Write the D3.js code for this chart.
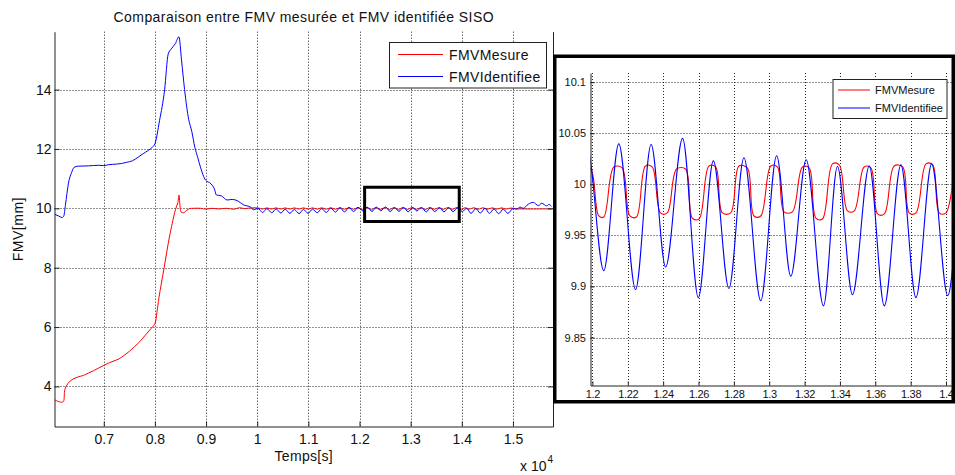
<!DOCTYPE html>
<html><head><meta charset="utf-8">
<script src="https://d3js.org/d3.v7.min.js"></script>
<style>
body{margin:0;background:#fff;}
svg{display:block;font-family:"Liberation Sans",Arial,Helvetica,sans-serif;}
</style></head><body>
<svg id="chart" width="955" height="475"></svg>
<script>
// ---- Data (time in units of 10^4 s) ----
const tempsMesure = [
0.604,0.610,0.616,0.621,0.624,0.630,0.638,0.650,0.660,0.670,0.680,0.690,0.700,0.710,0.720,0.730,0.740,0.750,0.760,0.770,0.780,0.790,0.800,0.804,0.808,0.818,0.828,0.834,0.840,0.845,0.847,0.849,0.851,0.856,0.862,0.868,0.875,0.890,0.900,0.910,0.925,0.940,0.955,0.965,0.975,0.985,
1.0013,1.0106,1.0191,1.0284,1.0369,1.0462,1.0547,1.0640,1.0725,1.0818,1.0903,1.0996,1.1081,1.1174,1.1259,1.1352,1.1437,1.1530,1.1615,1.1708,1.1793,1.1886,
1.1950,1.1990,1.2036,1.2064,1.2121,1.2168,1.2212,1.2249,1.2300,1.2338,1.2385,1.2423,1.2476,1.2527,1.2565,1.2603,1.2659,1.2697,1.2735,1.2782,1.2829,1.2876,1.2914,1.2952,1.3009,1.3046,1.3084,1.3131,1.3188,1.3226,1.3264,1.3301,1.3358,1.3396,1.3443,1.3481,1.3537,1.3575,1.3613,1.3651,1.3707,1.3755,1.3792,1.3830,1.3887,1.3925,1.3962,1.4000,
1.4065,1.4140,1.4240,1.4320,1.4420,1.4500,1.4600,1.4680,1.4780,1.4860,1.4960,1.5050,1.5200,1.5400,1.5600,1.5760
];
const fmvMesure = [
3.55,3.50,3.47,3.49,3.90,4.10,4.23,4.32,4.37,4.45,4.53,4.62,4.71,4.79,4.86,4.93,5.05,5.18,5.34,5.50,5.70,5.90,6.12,6.50,7.00,8.00,9.00,9.50,9.95,10.20,10.45,10.10,9.88,9.85,9.93,9.99,10.00,10.00,9.97,10.00,9.98,10.00,9.97,10.02,9.99,10.01,
10.015,9.975,10.015,9.975,10.016,9.974,10.015,9.973,10.016,9.974,10.017,9.972,10.016,9.972,10.018,9.971,10.018,9.970,10.019,9.969,10.019,9.968,
10.016,10.015,9.969,9.968,10.017,10.016,9.969,9.968,10.018,10.017,9.972,9.972,10.015,10.015,9.967,9.966,10.018,10.017,9.972,9.972,10.018,10.016,9.969,9.969,10.018,10.017,9.973,9.973,10.017,10.016,9.967,9.966,10.020,10.019,9.974,9.974,10.017,10.016,9.971,9.971,10.018,10.017,9.972,9.972,10.020,10.019,9.972,9.972,
10.020,9.972,10.018,9.971,10.018,9.972,10.017,9.973,10.016,9.974,10.010,9.985,9.980,9.978,9.980,9.975
];
const tempsIdentifiee = [
0.604,0.612,0.619,0.622,0.625,0.631,0.637,0.642,0.650,0.670,0.690,0.700,0.710,0.725,0.735,0.745,0.756,0.767,0.777,0.787,0.795,0.800,0.809,0.819,0.826,0.832,0.840,0.847,0.852,0.858,0.866,0.872,0.878,0.884,0.889,0.899,0.910,0.917,0.920,0.930,0.941,0.951,0.962,0.973,0.987,0.993,
1.0013,1.0106,1.0191,1.0284,1.0369,1.0462,1.0547,1.0640,1.0725,1.0818,1.0903,1.0996,1.1081,1.1174,1.1259,1.1352,1.1437,1.1530,1.1615,1.1708,1.1793,1.1886,1.1971,
1.2064,1.2149,1.2244,1.2332,1.2414,1.2510,1.2599,1.2684,1.2772,1.2857,1.2952,1.3042,1.3122,1.3209,1.3307,1.3386,1.3471,1.3566,1.3651,1.3745,1.3830,1.3919,1.4010,
1.4095,1.4180,1.4275,1.4360,1.4455,1.4540,1.4630,1.4720,1.4810,1.4900,1.5008,1.5070,1.5139,1.5200,1.5300,1.5399,1.5496,1.5563,1.5660,1.5700,1.5760
];
const fmvIdentifiee = [
9.80,9.74,9.69,9.75,10.10,10.85,11.20,11.38,11.42,11.43,11.45,11.44,11.47,11.49,11.51,11.55,11.60,11.72,11.84,11.95,12.06,12.17,12.95,14.00,15.20,15.37,15.55,15.78,15.00,14.00,13.00,12.60,12.06,11.70,11.39,10.95,10.82,10.62,10.45,10.42,10.28,10.30,10.25,10.12,10.04,9.95,
10.00,9.86,9.99,9.85,9.98,9.84,9.97,9.83,9.96,9.82,9.96,9.83,9.97,9.85,9.99,9.86,10.01,9.87,10.02,9.88,10.03,9.89,10.035,
9.9155,10.0396,9.897,10.039,9.919,10.045,9.889,10.023,9.898,10.026,9.886,10.028,9.910,10.024,9.881,10.0175,9.892,10.018,9.881,10.019,9.889,10.020,9.891,
10.00,9.83,9.99,9.84,10.00,9.83,9.98,9.82,9.97,9.83,10.00,9.97,10.04,10.00,10.14,10.20,10.09,10.17,10.08,10.13,10.06
];
const seriesNames = ["FMVMesure","FMVIdentifiee"];
const seriesColors = ["#ff0000","#0000ff"];

const xTicksMain = [0.7,0.8,0.9,1.0,1.1,1.2,1.3,1.4,1.5];
const yTicksMain = [4,6,8,10,12,14];
const xDomainMain = [0.6037,1.5783];
const yDomainMain = [2.65,15.95];

const xTicksZoom = [1.2,1.22,1.24,1.26,1.28,1.3,1.32,1.34,1.36,1.38,1.4];
const yTicksZoom = [9.85,9.9,9.95,10,10.05,10.1];
const xDomainZoom = [1.1989,1.4034];
const yDomainZoom = [9.803,10.109];

const zoomBoxX = [1.21,1.395];
const zoomBoxY = [9.556,10.71];

const titleText = "Comparaison entre FMV mesurée et FMV identifiée SISO";
const xLabel = "Temps[s]";
const yLabel = "FMV[mm]";

// ---- Drawing ----
const svg = d3.select("#chart");
const fmt = d => String(+d.toFixed(3));
const mesurePts = tempsMesure.map((t,i)=>[t,fmvMesure[i]]);
const identPts = tempsIdentifiee.map((t,i)=>[t,fmvIdentifiee[i]]);
const seriesPts = [mesurePts, identPts];
const seriesCurves = [d3.curveCatmullRom.alpha(0.5), d3.curveMonotoneX];
const crisp = v => Math.round(v) + 0.5;

// Main axes
const M = {l:54.5, r:553, t:31.7, b:426.5};
const x = d3.scaleLinear().domain(xDomainMain).range([M.l, M.r]);
const y = d3.scaleLinear().domain(yDomainMain).range([M.b, M.t]);

svg.append("defs").append("clipPath").attr("id","clipMain")
  .append("rect").attr("x",M.l).attr("y",M.t).attr("width",M.r-M.l).attr("height",M.b-M.t);

const gGrid = svg.append("g").attr("stroke","#222").attr("stroke-dasharray","1,2").attr("stroke-width",1);
gGrid.selectAll("line.vx").data(xTicksMain).join("line")
  .attr("x1",d=>crisp(x(d))).attr("x2",d=>crisp(x(d))).attr("y1",M.t).attr("y2",M.b);
gGrid.selectAll("line.hy").data(yTicksMain).join("line")
  .attr("y1",d=>crisp(y(d))).attr("y2",d=>crisp(y(d))).attr("x1",M.l).attr("x2",M.r);

svg.append("g").attr("clip-path","url(#clipMain)")
  .selectAll("path").data(seriesPts).join("path")
  .attr("d",(d,i)=>d3.line().x(p=>x(p[0])).y(p=>y(p[1])).curve(seriesCurves[i])(d))
  .attr("fill","none")
  .attr("stroke",(d,i)=>seriesColors[i]).attr("stroke-width",1);

// axes
const axX = svg.append("g").attr("transform",`translate(0,${M.b})`)
  .call(d3.axisBottom(x).tickValues(xTicksMain).tickFormat(fmt).tickSize(-5).tickSizeOuter(0).tickPadding(8));
const axY = svg.append("g").attr("transform",`translate(${M.l},0)`)
  .call(d3.axisLeft(y).tickValues(yTicksMain).tickFormat(fmt).tickSize(-5).tickSizeOuter(0).tickPadding(3));
const axR = svg.append("g").attr("transform",`translate(${M.r},0)`)
  .call(d3.axisRight(y).tickValues(yTicksMain).tickFormat("").tickSize(-5).tickSizeOuter(0));
[axX,axY,axR].forEach(a=>{
  a.selectAll("path.domain").attr("stroke","#222");
  a.selectAll(".tick line").attr("stroke","#222");
  a.selectAll("text").attr("font-size","14px").attr("fill","#111").attr("font-family",'"Liberation Sans",Arial,sans-serif');
});

// zoom box
svg.append("rect")
  .attr("x",x(zoomBoxX[0])).attr("y",y(zoomBoxY[1]))
  .attr("width",x(zoomBoxX[1])-x(zoomBoxX[0])).attr("height",y(zoomBoxY[0])-y(zoomBoxY[1]))
  .attr("fill","none").attr("stroke","#000").attr("stroke-width",3);

// title & labels
svg.append("text").attr("x",(M.l+M.r)/2).attr("y",22).attr("text-anchor","middle")
  .attr("font-size","14px").attr("letter-spacing","0.45px").attr("fill","#111").text(titleText);
svg.append("text").attr("x",(M.l+M.r)/2).attr("y",461).attr("text-anchor","middle")
  .attr("font-size","14px").attr("letter-spacing","0.3px").attr("fill","#111").text(xLabel);
svg.append("text").attr("transform",`translate(23,${(M.t+M.b)/2}) rotate(-90)`).attr("text-anchor","middle")
  .attr("font-size","14px").attr("letter-spacing","0.5px").attr("fill","#111").text(yLabel);
const expo = svg.append("text").attr("x",520).attr("y",471).attr("font-size","14px").attr("fill","#111");
expo.append("tspan").text("x 10");
expo.append("tspan").attr("font-size","10px").attr("dy","-8").attr("dx","1").text("4");

// main legend
const lg = svg.append("g");
lg.append("rect").attr("x",389.5).attr("y",42.5).attr("width",157).attr("height",45.5)
  .attr("fill","#fff").attr("stroke","#222").attr("stroke-width",1);
seriesNames.forEach((n,i)=>{
  const yy = 54.5 + i*22;
  lg.append("line").attr("x1",398).attr("x2",443).attr("y1",yy).attr("y2",yy)
    .attr("stroke",seriesColors[i]).attr("stroke-width",1);
  lg.append("text").attr("x",449).attr("y",yy+5).attr("font-size","14px").attr("letter-spacing","0.4px")
    .attr("fill","#111").text(n);
});

// ---- Inset ----
const gi = svg.append("g");
gi.append("rect").attr("x",554.75).attr("y",56.25).attr("width",398.5).attr("height",345.5)
  .attr("fill","#fff").attr("stroke","#000").attr("stroke-width",3.5);
const I = {l:590.5, r:952, t:73, b:385.5};
const xi = d3.scaleLinear().domain(xDomainZoom).range([I.l, I.r]);
const yi = d3.scaleLinear().domain(yDomainZoom).range([I.b, I.t]);
svg.select("defs").append("clipPath").attr("id","clipInset")
  .append("rect").attr("x",I.l).attr("y",I.t).attr("width",I.r-I.l).attr("height",I.b-I.t);

const giGrid = gi.append("g").attr("stroke","#222").attr("stroke-dasharray","1,2").attr("stroke-width",1);
giGrid.selectAll("line.vx").data(xTicksZoom).join("line")
  .attr("x1",d=>crisp(xi(d))).attr("x2",d=>crisp(xi(d))).attr("y1",I.t).attr("y2",I.b);
giGrid.selectAll("line.hy").data(yTicksZoom).join("line")
  .attr("y1",d=>crisp(yi(d))).attr("y2",d=>crisp(yi(d))).attr("x1",I.l).attr("x2",I.r);

gi.append("g").attr("clip-path","url(#clipInset)")
  .selectAll("path").data(seriesPts).join("path")
  .attr("d",(d,i)=>d3.line().x(p=>xi(p[0])).y(p=>yi(p[1])).curve(seriesCurves[i])(d))
  .attr("fill","none")
  .attr("stroke",(d,i)=>seriesColors[i]).attr("stroke-width",1.1);

const aiX = gi.append("g").attr("transform",`translate(0,${I.b})`)
  .call(d3.axisBottom(xi).tickValues(xTicksZoom).tickFormat(fmt).tickSize(-4).tickSizeOuter(0).tickPadding(5));
const aiY = gi.append("g").attr("transform",`translate(${I.l},0)`)
  .call(d3.axisLeft(yi).tickValues(yTicksZoom).tickFormat(fmt).tickSize(-4).tickSizeOuter(0).tickPadding(4.5));
[aiX,aiY].forEach(a=>{
  a.selectAll("path.domain").attr("stroke","#222");
  a.selectAll(".tick line").attr("stroke","#222");
  a.selectAll("text").attr("font-size","11px").attr("fill","#111").attr("font-family",'"Liberation Sans",Arial,sans-serif');
});
aiX.selectAll("text").attr("letter-spacing","-0.3px");

// inset legend
const lgi = gi.append("g");
lgi.append("rect").attr("x",833).attr("y",79.5).attr("width",114).attr("height",39)
  .attr("fill","#fff").attr("stroke","#222").attr("stroke-width",1);
seriesNames.forEach((n,i)=>{
  const yy = 90 + i*18;
  lgi.append("line").attr("x1",838).attr("x2",870).attr("y1",yy).attr("y2",yy)
    .attr("stroke",seriesColors[i]).attr("stroke-width",1);
  lgi.append("text").attr("x",875).attr("y",yy+4).attr("font-size","11px")
    .attr("fill","#111").text(n);
});
</script>
</body></html>
